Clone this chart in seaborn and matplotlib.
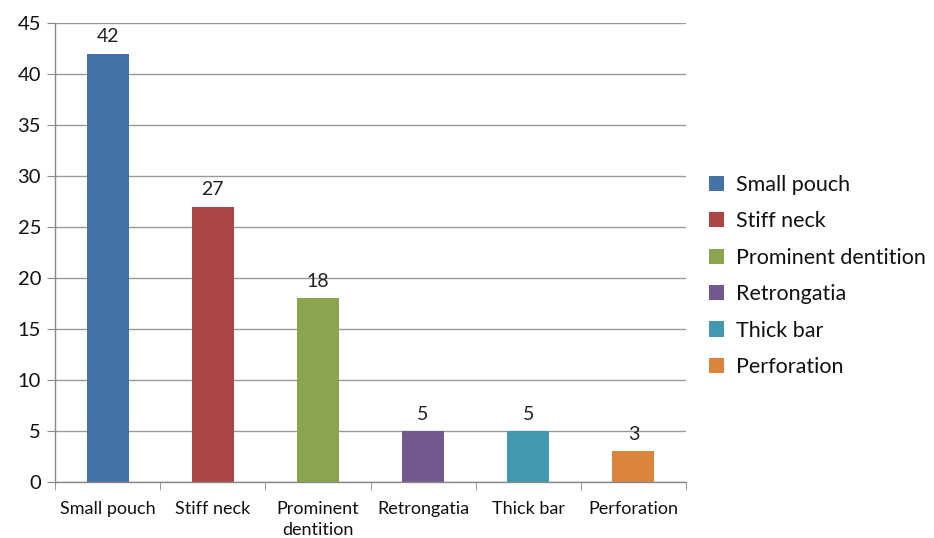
import matplotlib
matplotlib.use("Agg")
import matplotlib.pyplot as plt
import seaborn as sns
import pandas as pd
from matplotlib.patches import Patch

categories = ["Small pouch", "Stiff neck", "Prominent dentition", "Retrongatia", "Thick bar", "Perforation"]
tick_labels = ["Small pouch", "Stiff neck", "Prominent\ndentition", "Retrongatia", "Thick bar", "Perforation"]
counts = [42, 27, 18, 5, 5, 3]
colors = ["#4572A7", "#AA4643", "#89A54E", "#71588F", "#4198AF", "#DB843D"]

sns.set_style("white")
plt.rcParams["font.family"] = ["Lato", "DejaVu Sans"]

df = pd.DataFrame({"category": categories, "count": counts})

fig = plt.figure(figsize=(9.34, 5.38), dpi=100)
ax = fig.add_axes([0.0589, 0.1041, 0.6756, 0.8531])

sns.barplot(data=df, x="category", y="count", hue="category", order=categories,
            hue_order=categories, palette=colors, width=0.4, dodge=False,
            legend=False, ax=ax, saturation=1, linewidth=0)

for c in ax.containers:
    ax.bar_label(c, padding=6, fontsize=14, color="#222222")

ax.set_ylim(0, 45)
ax.set_yticks(range(0, 46, 5))
ax.set_xlim(-0.5, len(categories) - 0.5)
ax.yaxis.grid(True, color="#999999", linewidth=1)
ax.set_axisbelow(True)
ax.set_xlabel("")
ax.set_ylabel("")

ax.set_xticks([i for i in range(len(categories))])
ax.set_xticklabels(tick_labels, fontsize=13, color="#111111", linespacing=1.35)
ax.tick_params(axis="x", length=0, pad=14)
ax.tick_params(axis="y", labelsize=14.5, colors="#111111", length=6, color="#888888", left=True, pad=4)

# category separators on the x axis
ax.set_xticks([i - 0.5 for i in range(len(categories) + 1)], minor=True)
ax.tick_params(axis="x", which="minor", length=6, color="#888888", bottom=True)

for side in ["top", "right"]:
    ax.spines[side].set_visible(False)
for side in ["left", "bottom"]:
    ax.spines[side].set_color("#888888")
    ax.spines[side].set_linewidth(1)

handles = [Patch(facecolor=col, edgecolor="none") for col in colors]
fig.legend(handles, categories, loc="center left", bbox_to_anchor=(0.738, 0.487),
           frameon=False, fontsize=15.5, handlelength=0.7, handleheight=0.7,
           handletextpad=0.55, labelspacing=0.76, labelcolor="#111111")

fig.savefig("out.png", dpi=100)
